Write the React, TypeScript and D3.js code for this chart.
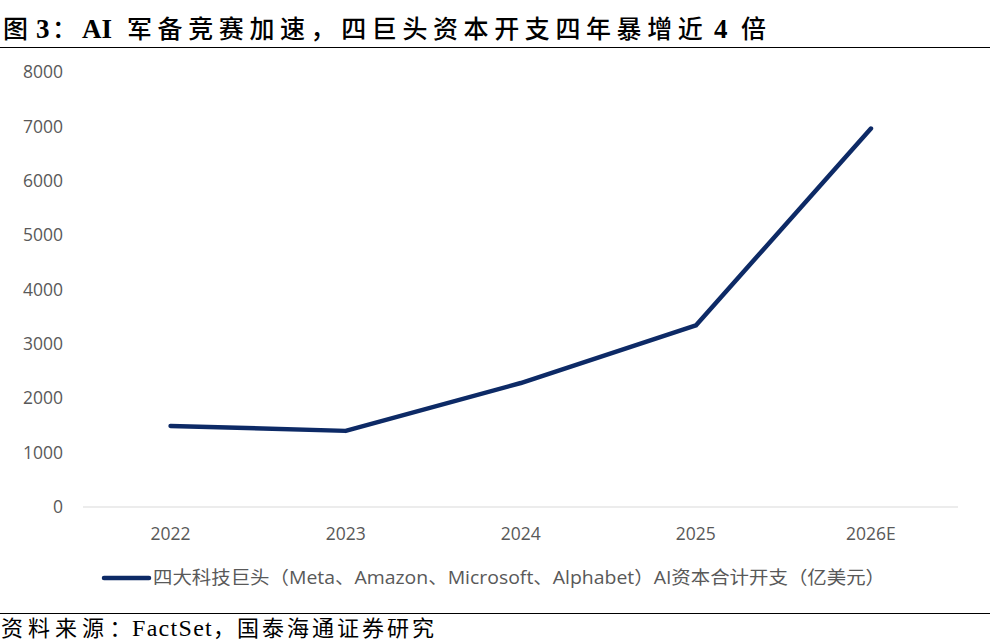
import React from "react";
import * as d3 from "d3";

const years = ["2022", "2023", "2024", "2025", "2026E"];
const capex = [1490, 1400, 2280, 3340, 6960];
const yTicks = [0, 1000, 2000, 3000, 4000, 5000, 6000, 7000, 8000];

const legendText = "四大科技巨头（Meta、Amazon、Microsoft、Alphabet）AI资本合计开支（亿美元）";

const width = 998;
const height = 642;
const margin = { top: 72, right: 40, bottom: 135, left: 83 };
const lineColor = "#0d2a66";
const tickColor = "#595959";
const sansFont = "'Open Sans', 'Noto Sans CJK SC', sans-serif";
const cjkFont = "'Noto Sans CJK SC', sans-serif";
const latinSerif = "'Liberation Serif', serif";

// title / source pieces: mixed CJK + Latin runs, each placed on its own
type Run = { t: string; x: number; latin?: boolean; ls?: number };
const titleRuns: Run[] = [
    { t: "图", x: 3 },
    { t: "3", x: 36, latin: true },
    { t: "：", x: 52 },
    { t: "AI", x: 82, latin: true },
    { t: "军备竞赛加速，四巨头资本开支四年暴增近", x: 127, ls: 5.6 },
    { t: "4", x: 714, latin: true },
    { t: "倍", x: 741 },
];
const sourceRuns: Run[] = [
    { t: "资料来源", x: 1, ls: 5 },
    { t: "：", x: 109.5 },
    { t: "FactSet", x: 132, latin: true, ls: 1.3 },
    { t: "，", x: 213 },
    { t: "国泰海通证券研究", x: 237, ls: 3 },
];

const App = (): JSX.Element => {
    const x = d3
        .scaleBand<string>()
        .domain(years)
        .range([margin.left, width - margin.right + 0.5]);

    const y = d3
        .scaleLinear()
        .domain([0, 8000])
        .range([height - margin.bottom, margin.top]);

    const line = d3
        .line<number>()
        .x((d, i) => (x(years[i]) as number) + x.bandwidth() / 2)
        .y((d) => y(d));

    return (
        <svg
            width={width}
            height={height}
            style={{ position: "absolute", left: 0, top: 0, background: "#fff" }}
        >
            {/* title */}
            <text y={38} fill="#000">
                {titleRuns.map((r, i) => (
                    <tspan
                        key={i}
                        x={r.x}
                        fontFamily={r.latin ? latinSerif : cjkFont}
                        fontWeight={r.latin ? "bold" : 500}
                        fontSize={r.latin ? 27 : 25}
                        letterSpacing={r.ls || 0}
                    >
                        {r.t}
                    </tspan>
                ))}
            </text>
            <line x1={0} x2={990} y1={47.5} y2={47.5} stroke="#000" strokeWidth={1.2} />

            {/* y axis labels */}
            {yTicks.map((t) => (
                <text
                    key={t}
                    x={63}
                    y={y(t)}
                    dy="0.35em"
                    textAnchor="end"
                    fontFamily={sansFont}
                    fontSize={17.5}
                    fill={tickColor}
                >
                    {t}
                </text>
            ))}

            {/* baseline */}
            <line
                x1={margin.left}
                x2={width - margin.right}
                y1={y(0)}
                y2={y(0)}
                stroke="#d9d9d9"
                strokeWidth={1.2}
            />

            {/* x axis labels */}
            {years.map((yr) => (
                <text
                    key={yr}
                    x={(x(yr) as number) + x.bandwidth() / 2}
                    y={534}
                    dy="0.35em"
                    textAnchor="middle"
                    fontFamily={sansFont}
                    fontSize={17.5}
                    fill={tickColor}
                >
                    {yr}
                </text>
            ))}

            {/* series */}
            <path
                d={line(capex) as string}
                fill="none"
                stroke={lineColor}
                strokeWidth={4.5}
                strokeLinejoin="round"
                strokeLinecap="round"
            />

            {/* legend */}
            <line
                x1={104}
                x2={149}
                y1={578}
                y2={578}
                stroke={lineColor}
                strokeWidth={4.5}
                strokeLinecap="round"
            />
            <text
                x={153}
                y={578}
                dy="0.35em"
                fontFamily={sansFont}
                fontSize={18}
                fill={tickColor}
                textLength={732}
                lengthAdjust="spacingAndGlyphs"
            >
                {legendText}
            </text>

            {/* source */}
            <line x1={0} x2={990} y1={613.5} y2={613.5} stroke="#000" strokeWidth={1.2} />
            <text y={636} fill="#000">
                {sourceRuns.map((r, i) => (
                    <tspan
                        key={i}
                        x={r.x}
                        fontFamily={r.latin ? latinSerif : cjkFont}
                        fontSize={r.latin ? 24 : 22}
                        letterSpacing={r.ls || 0}
                    >
                        {r.t}
                    </tspan>
                ))}
            </text>
        </svg>
    );
};

export default App;
